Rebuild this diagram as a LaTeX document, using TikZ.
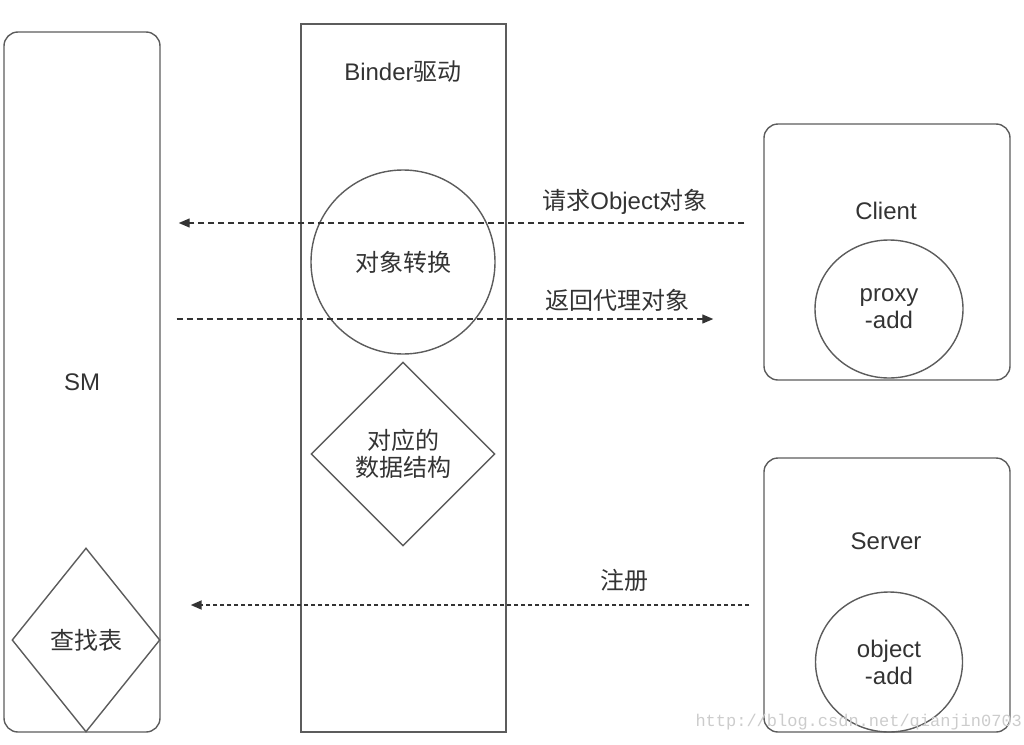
\documentclass[tikz,border=0pt]{standalone}
\usepackage{fontspec}
\setmainfont{Liberation Sans}
\newfontfamily\cjk{Noto Sans CJK SC}
\newfontfamily\wmfont{Liberation Mono}
\usepackage{tikz}
\usetikzlibrary{
	positioning,
	shapes.geometric,
	arrows.meta
}
\definecolor{edge}{HTML}{5C5C5C}
\definecolor{ink}{HTML}{333333}
\tikzset{
	every node/.style={text=ink,font=\fontsize{24}{27}\selectfont,align=center},
	zh/.style={font=\cjk\fontsize{24}{27}\selectfont},
	panel/.style={draw=edge,line width=1.4pt,inner sep=0pt},
	circ/.style={draw=edge,line width=1.4pt,ellipse,inner sep=0pt},
	dia/.style={draw=edge,line width=1.4pt,diamond,inner sep=0pt},
	flow/.style={draw=black!80,line width=1.3pt,dash pattern=on 6pt off 4pt,
		-{Triangle[length=11pt,width=9pt]}},
	regflow/.style={flow,line width=1.8pt,dash pattern=on 4pt off 3pt}
}

\begin{document}
\begin{tikzpicture}[x=1pt,y=-1pt]
	\useasboundingbox (0,0) rectangle (1024,744);
	% SM
	\node[panel,rounded corners=14pt,minimum width=156pt,minimum height=700pt] (sm) at (82,382) {SM};
	\node[dia,zh,minimum width=148pt,minimum height=184pt] (lookup) at (86,640) {查找表};
	% Binder
	\node[panel,minimum width=205pt,minimum height=708pt] (binder) at (403.5,378) {};
	\node (bindertitle) at (403,72) {Binder{\cjk 驱动}};
	\node[circ,zh,minimum width=184pt,minimum height=184pt] (conv) at (403,262) {对象转换};
	\node[dia,zh,minimum width=184pt,minimum height=184pt] (struct) at (403,454) {对应的\\数据结构};
	% Client
	\node[panel,rounded corners=14pt,minimum width=246pt,minimum height=256pt] (client) at (887,252) {};
	\node (clienttitle) at (886,211) {Client};
	\node[circ,minimum width=148pt,minimum height=138pt] (proxy) at (889,309) {proxy\\-add};
	% Server
	\node[panel,rounded corners=14pt,minimum width=246pt,minimum height=274pt] (server) at (887,595) {};
	\node (servertitle) at (886,541) {Server};
	\node[circ,minimum width=147pt,minimum height=140pt] (object) at (889,662) {object\\-add};
	% flows
	\coordinate (yreq) at (0,223);
	\coordinate (yret) at (0,319);
	\coordinate (yreg) at (0,605);
	\draw[flow,shorten <=19pt,shorten >=18pt] (client.west |- yreq) -- (sm.east |- yreq);
	\draw[flow,shorten <=16pt,shorten >=50pt] (sm.east |- yret) -- (client.west |- yret);
	\draw[regflow,shorten <=14pt,shorten >=30pt] (server.west |- yreg) -- (sm.east |- yreg);
	\node (reqlabel) at (625,202) {{\cjk 请求}Object{\cjk 对象}};
	\node[zh] (retlabel) at (617,300) {返回代理对象};
	\node[zh] (reglabel) at (624,580) {注册};
	% watermark
	\node[anchor=west,font=\wmfont\fontsize{17}{17}\selectfont,text=gray!40] (wm) at (692,722) {http://blog.csdn.net/qianjin0703};
\end{tikzpicture}
\end{document}
